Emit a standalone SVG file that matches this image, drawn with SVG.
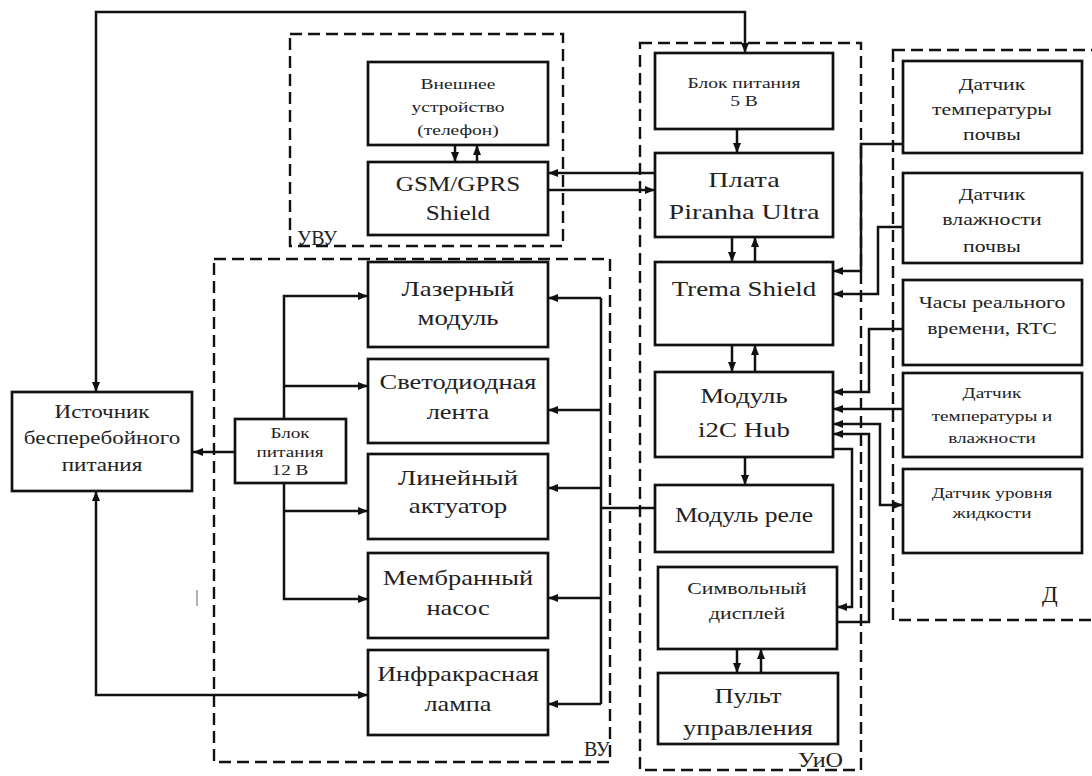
<svg xmlns="http://www.w3.org/2000/svg" width="1092" height="776" viewBox="0 0 1092 776">
<style>
.grp{fill:none;stroke:#111;stroke-width:2.4;stroke-dasharray:12 6}
.box{fill:#fff;stroke:#111;stroke-width:2.7}
.conn{fill:none;stroke:#111;stroke-width:2.5}
.t{font-family:"Liberation Serif","Times New Roman",serif;fill:#222;text-anchor:middle}
.lbl{font-family:"Liberation Serif","Times New Roman",serif;fill:#222}
</style>
<defs>
<marker id="ar" viewBox="0 0 10 8" refX="10" refY="4" markerWidth="10" markerHeight="8" markerUnits="userSpaceOnUse" orient="auto-start-reverse">
<path d="M0,0 L10,4 L0,8 z" fill="#111"/>
</marker>
</defs>
<rect width="1092" height="776" fill="#fff"/>

<g id="groups">
<rect class="grp" x="290" y="34" width="273" height="212"/>
<rect class="grp" x="214" y="259" width="396" height="503"/>
<rect class="grp" x="640" y="43" width="221" height="727"/>
<rect class="grp" x="893" y="50" width="210" height="570"/>
<text class="lbl" x="297" y="245" font-size="20">УВУ</text>
<text class="lbl" x="584" y="756" font-size="20">ВУ</text>
<text class="lbl" x="798" y="767" font-size="21" transform="matrix(1.15 0 0 1 -120 0)">УиО</text>
<text class="lbl" x="1042" y="602" font-size="23">Д</text>
</g>

<g id="connectors">
<path class="conn" d="M96,392 L96,12 L745,12 L745,53" marker-start="url(#ar)" marker-end="url(#ar)"/>
<path class="conn" d="M96,491 L96,695 L368,695" marker-start="url(#ar)" marker-end="url(#ar)"/>
<path class="conn" d="M235,452 L193,452" marker-end="url(#ar)"/>
<path class="conn" d="M284,419 L284,296 L368,296" marker-end="url(#ar)"/>
<path class="conn" d="M284,386 L368,386" marker-end="url(#ar)"/>
<path class="conn" d="M284,483 L284,599 L368,599" marker-end="url(#ar)"/>
<path class="conn" d="M284,511 L368,511" marker-end="url(#ar)"/>
<path class="conn" d="M655,508 L601,508"/>
<path class="conn" d="M601,298 L601,704"/>
<path class="conn" d="M601,298 L548,298" marker-end="url(#ar)"/>
<path class="conn" d="M601,410 L548,410" marker-end="url(#ar)"/>
<path class="conn" d="M601,488 L548,488" marker-end="url(#ar)"/>
<path class="conn" d="M601,598 L548,598" marker-end="url(#ar)"/>
<path class="conn" d="M601,704 L548,704" marker-end="url(#ar)"/>
<path class="conn" d="M455,145 L455,162" marker-end="url(#ar)"/>
<path class="conn" d="M477,162 L477,145" marker-end="url(#ar)"/>
<path class="conn" d="M655,173 L548,173" marker-end="url(#ar)"/>
<path class="conn" d="M548,190 L655,190" marker-end="url(#ar)"/>
<path class="conn" d="M737,129 L737,153" marker-end="url(#ar)"/>
<path class="conn" d="M732,237 L732,262" marker-end="url(#ar)"/>
<path class="conn" d="M755,262 L755,237" marker-end="url(#ar)"/>
<path class="conn" d="M732,345 L732,372" marker-end="url(#ar)"/>
<path class="conn" d="M755,372 L755,345" marker-end="url(#ar)"/>
<path class="conn" d="M745,457 L745,485" marker-end="url(#ar)"/>
<path class="conn" d="M737,649 L737,673" marker-end="url(#ar)"/>
<path class="conn" d="M761,673 L761,649" marker-end="url(#ar)"/>
<path class="conn" d="M903,144 L861,144 L861,271 L833,271" marker-end="url(#ar)"/>
<path class="conn" d="M903,227 L878,227 L878,294 L833,294" marker-end="url(#ar)"/>
<path class="conn" d="M903,329 L869,329 L869,392 L833,392" marker-end="url(#ar)"/>
<path class="conn" d="M903,409 L833,409" marker-end="url(#ar)"/>
<path class="conn" d="M833,424 L880,424 L880,505 L903,505" marker-start="url(#ar)" marker-end="url(#ar)"/>
<path class="conn" d="M837,622 L869,622 L869,434 L833,434" marker-end="url(#ar)"/>
<path class="conn" d="M833,449 L852,449 L852,607 L837,607" marker-end="url(#ar)"/>
<line x1="197" y1="590" x2="197" y2="606" stroke="#999" stroke-width="1.5"/>
</g>

<g id="n-ext"><rect class="box" x="368" y="62" width="180" height="83"/>
<text class="t" font-size="15" transform="matrix(1.3 0 0 1 458 0)"><tspan x="0" y="89">Внешнее</tspan><tspan x="0" y="112">устройство</tspan><tspan x="0" y="135">(телефон)</tspan></text></g>
<g id="n-gsm"><rect class="box" x="368" y="162" width="180" height="73"/>
<text class="t" font-size="20" transform="matrix(1.26 0 0 1 458 0)"><tspan x="0" y="191">GSM/GPRS</tspan><tspan x="0" y="220">Shield</tspan></text></g>

<g id="n-ups"><rect class="box" x="12" y="392" width="180" height="99"/>
<text class="t" font-size="18" transform="matrix(1.28 0 0 1 102 0)"><tspan x="0" y="418">Источник</tspan><tspan x="0" y="444">бесперебойного</tspan><tspan x="0" y="471">питания</tspan></text></g>
<g id="n-psu12"><rect class="box" x="235" y="419" width="111" height="64"/>
<text class="t" font-size="15" transform="matrix(1.28 0 0 1 290 0)"><tspan x="0" y="438">Блок</tspan><tspan x="0" y="457">питания</tspan><tspan x="0" y="475">12 В</tspan></text></g>

<g id="n-laser"><rect class="box" x="368" y="262" width="180" height="85"/>
<text class="t" font-size="21" transform="matrix(1.28 0 0 1 458 0)"><tspan x="0" y="296">Лазерный</tspan><tspan x="0" y="325">модуль</tspan></text></g>
<g id="n-led"><rect class="box" x="368" y="359" width="180" height="84"/>
<text class="t" font-size="21" transform="matrix(1.26 0 0 1 458 0)"><tspan x="0" y="389">Светодиодная</tspan><tspan x="0" y="419">лента</tspan></text></g>
<g id="n-act"><rect class="box" x="368" y="454" width="180" height="85"/>
<text class="t" font-size="21" transform="matrix(1.28 0 0 1 458 0)"><tspan x="0" y="485">Линейный</tspan><tspan x="0" y="513">актуатор</tspan></text></g>
<g id="n-pump"><rect class="box" x="368" y="553" width="180" height="85"/>
<text class="t" font-size="21" transform="matrix(1.26 0 0 1 458 0)"><tspan x="0" y="585">Мембранный</tspan><tspan x="0" y="615">насос</tspan></text></g>
<g id="n-ir"><rect class="box" x="368" y="650" width="180" height="85"/>
<text class="t" font-size="21" transform="matrix(1.25 0 0 1 458 0)"><tspan x="0" y="681">Инфракрасная</tspan><tspan x="0" y="711">лампа</tspan></text></g>

<g id="n-psu5"><rect class="box" x="655" y="53" width="178" height="76"/>
<text class="t" font-size="15" transform="matrix(1.3 0 0 1 744 0)"><tspan x="0" y="88">Блок питания</tspan><tspan x="0" y="106">5 В</tspan></text></g>
<g id="n-board"><rect class="box" x="655" y="153" width="178" height="84"/>
<text class="t" font-size="22" transform="matrix(1.28 0 0 1 744 0)"><tspan x="0" y="187">Плата</tspan><tspan x="0" y="219">Piranha Ultra</tspan></text></g>
<g id="n-trema"><rect class="box" x="655" y="262" width="178" height="83"/>
<text class="t" font-size="21" transform="matrix(1.28 0 0 1 744 0)"><tspan x="0" y="296">Trema Shield</tspan></text></g>
<g id="n-hub"><rect class="box" x="655" y="372" width="178" height="85"/>
<text class="t" font-size="21" transform="matrix(1.28 0 0 1 744 0)"><tspan x="0" y="403">Модуль</tspan><tspan x="0" y="437">i2C Hub</tspan></text></g>
<g id="n-relay"><rect class="box" x="655" y="485" width="178" height="67"/>
<text class="t" font-size="20" transform="matrix(1.28 0 0 1 744 0)"><tspan x="0" y="522">Модуль реле</tspan></text></g>
<g id="n-disp"><rect class="box" x="658" y="567" width="179" height="82"/>
<text class="t" font-size="17" transform="matrix(1.28 0 0 1 747 0)"><tspan x="0" y="594">Символьный</tspan><tspan x="0" y="619">дисплей</tspan></text></g>
<g id="n-remote"><rect class="box" x="658" y="673" width="180" height="71"/>
<text class="t" font-size="21" transform="matrix(1.26 0 0 1 748 0)"><tspan x="0" y="703">Пульт</tspan><tspan x="0" y="735">управления</tspan></text></g>

<g id="n-s1"><rect class="box" x="903" y="61" width="179" height="92"/>
<text class="t" font-size="17" transform="matrix(1.28 0 0 1 992 0)"><tspan x="0" y="90">Датчик</tspan><tspan x="0" y="115">температуры</tspan><tspan x="0" y="140">почвы</tspan></text></g>
<g id="n-s2"><rect class="box" x="903" y="173" width="179" height="90"/>
<text class="t" font-size="17" transform="matrix(1.28 0 0 1 992 0)"><tspan x="0" y="200">Датчик</tspan><tspan x="0" y="225">влажности</tspan><tspan x="0" y="252">почвы</tspan></text></g>
<g id="n-s3"><rect class="box" x="903" y="280" width="179" height="85"/>
<text class="t" font-size="17" transform="matrix(1.28 0 0 1 992 0)"><tspan x="0" y="308">Часы реального</tspan><tspan x="0" y="334">времени, RTC</tspan></text></g>
<g id="n-s4"><rect class="box" x="903" y="373" width="179" height="84"/>
<text class="t" font-size="15" transform="matrix(1.28 0 0 1 992 0)"><tspan x="0" y="398">Датчик</tspan><tspan x="0" y="421">температуры и</tspan><tspan x="0" y="443">влажности</tspan></text></g>
<g id="n-s5"><rect class="box" x="903" y="469" width="179" height="84"/>
<text class="t" font-size="15" transform="matrix(1.28 0 0 1 992 0)"><tspan x="0" y="498">Датчик уровня</tspan><tspan x="0" y="518">жидкости</tspan></text></g>
</svg>
